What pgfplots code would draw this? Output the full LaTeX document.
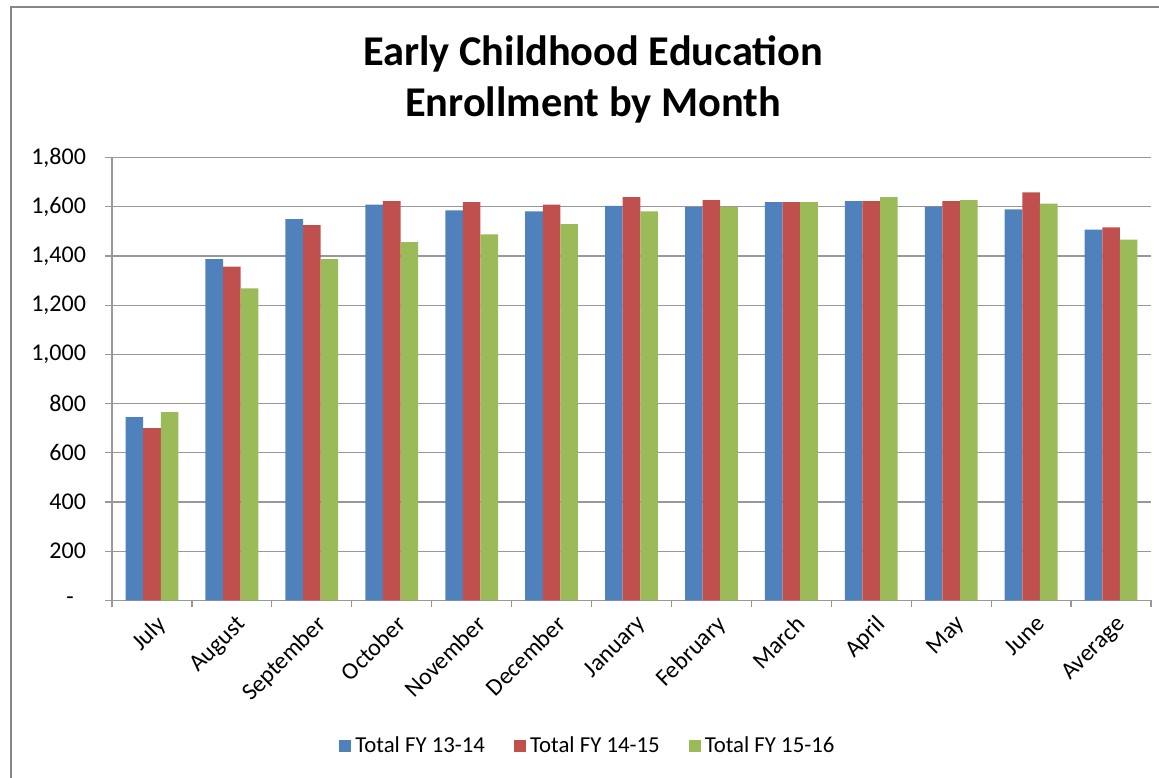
\documentclass[border=0pt]{standalone}
\usepackage{fontspec}
\setmainfont{Carlito}
\usepackage{pgfplots}
\usepackage{pgfplotstable}
\pgfplotsset{compat=1.18}

\definecolor{s1}{HTML}{4F81BD}
\definecolor{s2}{HTML}{C0504D}
\definecolor{s3}{HTML}{9BBB59}
\definecolor{gridc}{HTML}{989898}
\definecolor{framec}{HTML}{878787}

% enrollment
\pgfplotstableread{
x  a    b    c
0  745  700  765
1  1388 1357 1269
2  1550 1526 1388
3  1609 1623 1457
4  1586 1619 1488
5  1582 1609 1530
6  1604 1640 1582
7  1600 1627 1600
8  1619 1619 1619
9  1623 1623 1640
10 1601 1623 1627
11 1590 1659 1613
12 1507 1517 1467
}\enroll

\begin{document}
\begin{tikzpicture}
\path[use as bounding box] (0,0) rectangle (579.5pt,388.5pt);
\clip (0,0) rectangle (579.5pt,388.5pt);
\draw[framec, line width=0.75pt] (5.5pt,-10pt) rectangle (600pt,385pt);

\begin{axis}[
  at={(56pt,88.35pt)}, anchor=south west,
  scale only axis, width=519.5pt, height=221.3pt,
  ybar=0pt, bar width=8.8pt,
  xmin=-0.5, xmax=12.5, ymin=0, ymax=1800,
  ytick={0,200,...,1800},
  yticklabels={{-\hphantom{0}},200,400,600,800,{1,000},{1,200},{1,400},{1,600},{1,800}},
  xtick={0,...,12},
  xticklabels={July,August,September,October,November,December,January,February,March,April,May,June,Average},
  minor xtick={-0.5,0.5,...,12.5},
  every major x tick/.append style={draw=none},
  tick align=outside, major tick length=3.5pt, minor tick length=3.5pt,
  tick style={gridc, line width=0.6pt},
  ymajorgrids, grid style={gridc, line width=0.6pt},
  axis lines*=left, axis line style={gridc, line width=0.6pt, -},
  ticklabel style={font=\fontsize{12}{14}\selectfont},
  /pgf/number format/assume math mode=true,
  xticklabel style={rotate=45, anchor=north east, inner sep=1pt, yshift=-2.5pt},
  yticklabel style={xshift=-6pt},
  legend columns=3,
  legend image code/.code={\fill[#1] (0pt,-3pt) rectangle (6pt,3pt);},
  legend style={at={(axis description cs:0.459,-0.329)}, anchor=center,
    draw=none, font=\fontsize{11.4}{13}\selectfont,
    /tikz/every even column/.append style={column sep=12.5pt}},
]
\addplot[fill=s1, draw=none] table[x=x,y=a] {\enroll};
\addlegendentry{Total FY 13-14}
\addplot[fill=s2, draw=none] table[x=x,y=b] {\enroll};
\addlegendentry{Total FY 14-15}
\addplot[fill=s3, draw=none] table[x=x,y=c] {\enroll};
\addlegendentry{Total FY 15-16}
\end{axis}

\node[font=\fontsize{21.2}{24}\selectfont\bfseries] at (296.5pt,361.5pt) {Early Childhood Education};
\node[font=\fontsize{21.2}{24}\selectfont\bfseries] at (296.5pt,336pt) {Enrollment by Month};
\end{tikzpicture}
\end{document}
